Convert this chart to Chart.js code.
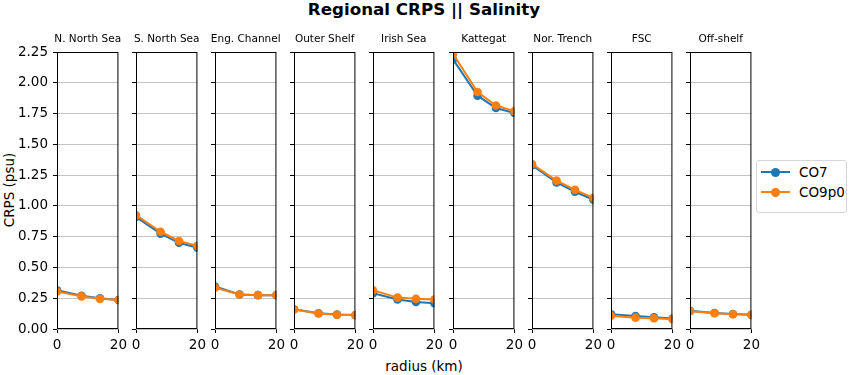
<!DOCTYPE html>
<html>
<head>
<meta charset="utf-8">
<script src="https://cdn.jsdelivr.net/npm/chart.js@4/dist/chart.umd.min.js"></script>
<style>
body { margin: 0; width: 850px; height: 375px; position: relative; background: #fff; overflow: hidden;
       font-family: 'DejaVu Sans', sans-serif; color: #000; }
canvas { position: absolute; }
.txt { position: absolute; white-space: nowrap; line-height: 20px; transform: translate(-50%, -50%); }
#suptitle { left: 424px; top: 9px; font-size: 16.7px; font-weight: bold; }
#ylabel { left: 9px; top: 190px; font-size: 13.5px; transform: translate(-50%, -50%) rotate(-90deg); }
#xlabel { left: 424px; top: 366px; font-size: 13.5px; }
#legend { position: absolute; left: 756px; top: 160px; width: 91px; height: 53px; box-sizing: border-box;
          border: 1px solid #d6d6d6; border-radius: 3px; font-size: 13.5px; }
.row { position: absolute; left: 0; height: 20px; width: 100%; }
.row .ln { position: absolute; left: 4px; top: 9px; width: 29px; height: 2px; }
.row .dot { position: absolute; left: 14px; top: 5.5px; width: 9px; height: 9px; border-radius: 50%; }
.row span { position: absolute; left: 42px; top: 0; line-height: 20px; }
</style>
</head>
<body>
<div class="txt" id="suptitle">Regional CRPS || Salinity</div>
<div class="txt" id="ylabel">CRPS (psu)</div>
<div class="txt" id="xlabel">radius (km)</div>
<div id="legend"></div>
<script>
// dati
const regions = ['N. North Sea', 'S. North Sea', 'Eng. Channel', 'Outer Shelf', 'Irish Sea',
                 'Kattegat', 'Nor. Trench', 'FSC', 'Off-shelf'];
const radius = [0, 8, 14, 20];
const co7 = [
  [0.315, 0.27, 0.25, 0.235],
  [0.91, 0.775, 0.70, 0.66],
  [0.345, 0.28, 0.275, 0.275],
  [0.16, 0.128, 0.117, 0.113],
  [0.29, 0.24, 0.22, 0.21],
  [2.19, 1.895, 1.795, 1.755],
  [1.33, 1.19, 1.115, 1.05],
  [0.12, 0.105, 0.095, 0.085],
  [0.148, 0.13, 0.122, 0.115]
];
const co9p0 = [
  [0.305, 0.265, 0.245, 0.235],
  [0.925, 0.79, 0.715, 0.675],
  [0.335, 0.28, 0.275, 0.275],
  [0.158, 0.126, 0.116, 0.113],
  [0.315, 0.255, 0.245, 0.24],
  [2.235, 1.925, 1.815, 1.77],
  [1.34, 1.205, 1.13, 1.065],
  [0.108, 0.092, 0.087, 0.08],
  [0.145, 0.128, 0.12, 0.115]
];
const xTicks = [0, 20];
const yTicks = [0, 0.25, 0.5, 0.75, 1.0, 1.25, 1.5, 1.75, 2.0, 2.25];

const seriesNames = ['CO7', 'CO9p0'];
const seriesColors = ['#1f77b4', '#ff7f0e'];

Chart.defaults.font.family = "'DejaVu Sans', sans-serif";
Chart.defaults.color = '#000';

// cornice nera attorno a ogni pannello + titolo centrato sul pannello
const framePlugin = {
  id: 'frame',
  afterDraw(chart, args, opts) {
    const { ctx, chartArea: a } = chart;
    ctx.save();
    ctx.strokeStyle = '#000';
    ctx.lineWidth = 1;
    ctx.strokeRect(a.left + 0.5, a.top + 0.5, a.width - 1, a.height - 1);
    ctx.fillStyle = '#000';
    ctx.font = "10.5px 'DejaVu Sans', sans-serif";
    ctx.textAlign = 'center';
    ctx.textBaseline = 'middle';
    ctx.fillText(opts.text, (a.left + a.right) / 2, a.top - 13);
    ctx.restore();
  }
};

function serie(vals) {
  return radius.map((r, k) => ({ x: r, y: vals[k] }));
}

regions.forEach((name, i) => {
  const cv = document.createElement('canvas');
  cv.width = 119;
  cv.height = 316;
  cv.style.left = (Math.round(56.5 + i * 79.2) - 45) + 'px';
  cv.style.top = '33px';
  document.body.appendChild(cv);

  const allData = [co7[i], co9p0[i]];
  new Chart(cv, {
    type: 'line',
    data: {
      datasets: seriesNames.map((s, j) => ({
        label: s,
        data: serie(allData[j]),
        borderColor: seriesColors[j],
        backgroundColor: seriesColors[j],
        borderWidth: 2,
        pointRadius: 4.3,
        pointBorderWidth: 0,
        clip: 0,
        order: 2 - j   // arancione sopra
      }))
    },
    options: {
      responsive: false,
      animation: false,
      devicePixelRatio: 1,
      layout: { padding: { left: 0, right: 12, top: 19, bottom: 0 } },
      plugins: {
        legend: { display: false },
        tooltip: { enabled: false },
        frame: { text: name }
      },
      scales: {
        x: {
          type: 'linear', min: 0, max: 20,
          afterBuildTicks: s => { s.ticks = xTicks.map(v => ({ value: v })); },
          afterFit: s => { s.height = 20; },
          grid: { drawOnChartArea: false, drawTicks: true, tickLength: 4, tickColor: '#000' },
          border: { display: false },
          ticks: { font: { size: 13.5 }, padding: 4, maxRotation: 0 }
        },
        y: {
          min: 0, max: 2.25,
          afterBuildTicks: s => { s.ticks = yTicks.map(v => ({ value: v })); },
          afterFit: s => { s.width = 45; },
          grid: { color: '#c4c4c4', lineWidth: 1, drawTicks: true, tickLength: 4, tickColor: '#000' },
          border: { display: false },
          ticks: { display: i === 0, font: { size: 13.5 }, padding: 5, callback: v => v.toFixed(2) }
        }
      }
    },
    plugins: [framePlugin]
  });
});

// legenda
const legend = document.getElementById('legend');
seriesNames.forEach((s, j) => {
  const row = document.createElement('div');
  row.className = 'row';
  row.style.top = (1 + j * 20) + 'px';
  row.innerHTML = `<div class="ln" style="background:${seriesColors[j]}"></div>
                   <div class="dot" style="background:${seriesColors[j]}"></div><span>${s}</span>`;
  legend.appendChild(row);
});
</script>
</body>
</html>
